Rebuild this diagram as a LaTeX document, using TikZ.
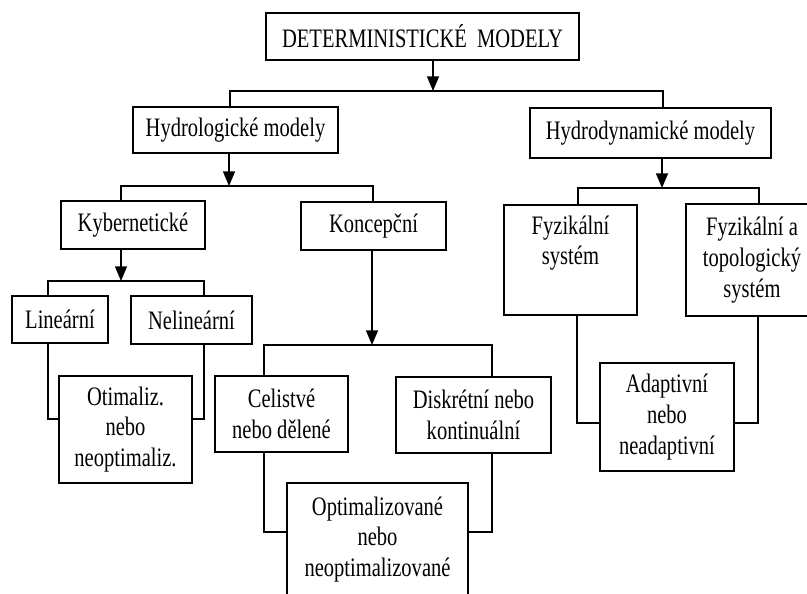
\documentclass[tikz,border=0pt]{standalone}
\usepackage{fontspec}
\setmainfont{Liberation Serif}[FakeStretch=0.77]
\usetikzlibrary{arrows.meta}
\newcommand{\pxu}{0.75pt}
\tikzset{
  box/.style={draw, line width=1.1pt, align=center, inner sep=1pt,
    font=\fontsize{20pt}{23pt}\selectfont},
  ln/.style={draw, line width=1.1pt, line join=miter},
  arr/.style={ln, -{Triangle[length=11pt,width=9pt]}}
}
\begin{document}
\begin{tikzpicture}[x=0.75pt,y=-0.75pt]
\useasboundingbox (0,0) rectangle (807,593);
\clip (0,0) rectangle (807,593);
% boxes
\node[box, minimum width=313*\pxu, minimum height=47*\pxu] (title) at (422.5,36.5) {DETERMINISTICKÉ\ \ MODELY};
\node[box, minimum width=205*\pxu, minimum height=46*\pxu] (hydrol) at (235.5,130) {Hydrologické modely};
\node[box, minimum width=241*\pxu, minimum height=50*\pxu] (hydrod) at (650.5,133) {Hydrodynamické modely};
\node[box, minimum width=144*\pxu, minimum height=48*\pxu] (kyb) at (133,225) {Kybernetické};
\node[box, minimum width=145*\pxu, minimum height=48*\pxu] (konc) at (373.5,226) {Koncepční};
\node[box, minimum width=96*\pxu, minimum height=47*\pxu] (lin) at (60,319.5) {Lineární};
\node[box, minimum width=121*\pxu, minimum height=48*\pxu] (nelin) at (191.5,320) {Nelineární};
\node[box, minimum width=133*\pxu, minimum height=107*\pxu] (otim) at (125.5,429.5) {Otimaliz.\\nebo\\neoptimaliz.};
\node[box, minimum width=133*\pxu, minimum height=76*\pxu] (celis) at (281.5,414) {Celistvé\\nebo dělené};
\node[box, minimum width=155*\pxu, minimum height=76*\pxu] (disk) at (473.5,415) {Diskrétní nebo\\kontinuální};
\node[box, minimum width=181*\pxu, minimum height=113*\pxu] (opt) at (377.5,539.5) {Optimalizované\\nebo\\neoptimalizované};
\node[box, minimum width=133*\pxu, minimum height=110*\pxu] (fyz) at (570.5,260) {Fyzikální\\systém\\\strut};
\node[box, minimum width=132*\pxu, minimum height=112*\pxu] (topo) at (752,260) {Fyzikální a\\topologický\\systém};
\node[box, minimum width=134*\pxu, minimum height=108*\pxu] (adapt) at (667,417) {Adaptivní\\nebo\\neadaptivní};
% junction points
\coordinate (j0) at (433,91);  \coordinate (j0l) at (230,91);  \coordinate (j0r) at (663,91);
\coordinate (j1) at (229,186); \coordinate (j1l) at (121,186); \coordinate (j1r) at (373,186);
\coordinate (j2) at (121,281); \coordinate (j2l) at (48,281);  \coordinate (j2r) at (204,281);
\coordinate (j3) at (372,345); \coordinate (j3l) at (264,345); \coordinate (j3r) at (492,345);
\coordinate (j4) at (662,188); \coordinate (j4l) at (578,188); \coordinate (j4r) at (759,188);
\coordinate (k1) at (48,419);  \coordinate (k2) at (204,419);
\coordinate (k3) at (264,532); \coordinate (k4) at (492,532);
\coordinate (k5) at (577,423); \coordinate (k6) at (758,423);
% connectors
\draw[arr] (title.south -| j0) -- (j0);
\draw[ln] (hydrol.north -| j0l) -- (j0l) -- (j0r) -- (hydrod.north -| j0r);
\draw[arr] (hydrol.south -| j1) -- (j1);
\draw[ln] (kyb.north -| j1l) -- (j1l) -- (j1r) -- (konc.north -| j1r);
\draw[arr] (kyb.south -| j2) -- (j2);
\draw[ln] (lin.north -| j2l) -- (j2l) -- (j2r) -- (nelin.north -| j2r);
\draw[ln] (lin.south -| k1) -- (k1) -- (otim.west |- k1);
\draw[ln] (nelin.south -| k2) -- (k2) -- (otim.east |- k2);
\draw[arr] (konc.south -| j3) -- (j3);
\draw[ln] (celis.north -| j3l) -- (j3l) -- (j3r) -- (disk.north -| j3r);
\draw[ln] (celis.south -| k3) -- (k3) -- (opt.west |- k3);
\draw[ln] (disk.south -| k4) -- (k4) -- (opt.east |- k4);
\draw[arr] (hydrod.south -| j4) -- (j4);
\draw[ln] (fyz.north -| j4l) -- (j4l) -- (j4r) -- (topo.north -| j4r);
\draw[ln] (fyz.south -| k5) -- (k5) -- (adapt.west |- k5);
\draw[ln] (topo.south -| k6) -- (k6) -- (adapt.east |- k6);
\end{tikzpicture}
\end{document}
